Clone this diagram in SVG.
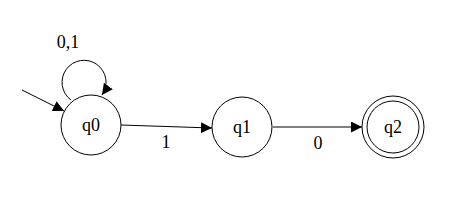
<svg xmlns="http://www.w3.org/2000/svg" width="456" height="214" viewBox="0 0 456 214">
<style>
.s{fill:none;stroke:#000;stroke-width:1}
.t{font-family:"Liberation Serif",serif;font-size:18px;fill:#000;text-anchor:middle}
</style>
<defs>
<marker id="a" viewBox="0 0 10 10" refX="10" refY="5" markerWidth="11" markerHeight="11" markerUnits="userSpaceOnUse" orient="auto">
<path d="M0,0 L10,5 L0,10 z" fill="#000"/>
</marker>
</defs>
<rect width="456" height="214" fill="#fff"/>
<g id="connectors">
<line class="s" x1="22" y1="90" x2="64" y2="111" marker-end="url(#a)"/>
<path class="s" d="M71,100 A22,22 0 1 1 102,95" marker-end="url(#a)"/>
<text class="t" x="68" y="48">0,1</text>
<line class="s" x1="121" y1="125" x2="212" y2="128" marker-end="url(#a)"/>
<text class="t" x="166" y="148">1</text>
<line class="s" x1="273" y1="127" x2="362" y2="127" marker-end="url(#a)"/>
<text class="t" x="318" y="149">0</text>
</g>
<g id="q0">
<circle class="s" cx="91" cy="125" r="30"/>
<text class="t" x="91" y="131">q0</text>
</g>
<g id="q1">
<circle class="s" cx="242" cy="127" r="30"/>
<text class="t" x="242" y="133">q1</text>
</g>
<g id="q2">
<circle class="s" cx="393" cy="127" r="31"/>
<circle class="s" cx="393" cy="127" r="26"/>
<text class="t" x="393" y="133">q2</text>
</g>
</svg>
